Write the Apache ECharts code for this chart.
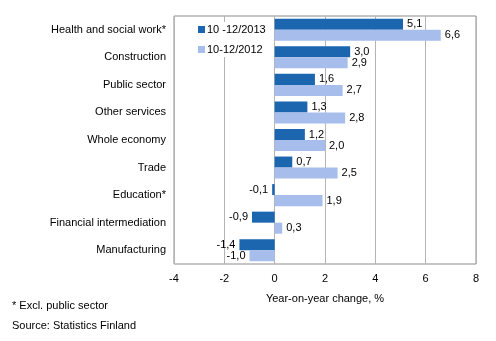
<!DOCTYPE html>
<html>
<head>
<meta charset="utf-8">
<script src="https://cdn.jsdelivr.net/npm/echarts@6/dist/echarts.min.js"></script>
<style>
  html, body { margin: 0; padding: 0; background: #fff; }
  #main { width: 496px; height: 341px; }
</style>
</head>
<body>
<div id="main"></div>
<script>
  // 行业及两期同比变化
  var categories = ['Health and social work*', 'Construction', 'Public sector', 'Other services',
    'Whole economy', 'Trade', 'Education*', 'Financial intermediation', 'Manufacturing'];
  var values2013 = [5.1, 3.0, 1.6, 1.3, 1.2, 0.7, -0.1, -0.9, -1.4];
  var values2012 = [6.6, 2.9, 2.7, 2.8, 2.0, 2.5, 1.9, 0.3, -1.0];
  var seriesNames = ['10 -12/2013', '10-12/2012'];

  var myChart = echarts.init(document.getElementById('main'));
  var font = 'Arial, "Liberation Sans", sans-serif';

  // 正值标签在右，负值标签在左
  function toItems(arr) {
    return arr.map(function (v) {
      return { value: v, label: { position: v < 0 ? 'left' : 'right' } };
    });
  }
  function fmt(p) {
    return p.value.toFixed(1).replace('.', ',');
  }

  var option = {
    animation: false,
    textStyle: { fontFamily: font },
    grid: {
      left: 174, right: 20, top: 16, bottom: 77,
      show: true, borderColor: '#8c8c8c', borderWidth: 1, backgroundColor: '#fff'
    },
    legend: {
      orient: 'vertical',
      left: 196, top: 22,
      itemWidth: 7, itemHeight: 7, itemGap: 9,
      backgroundColor: '#fff',
      padding: [2, 4, 2, 2],
      icon: 'rect',
      textStyle: { fontSize: 11, color: '#000', fontFamily: font, padding: [0, 0, 0, -3] },
      data: seriesNames
    },
    xAxis: {
      type: 'value',
      min: -4, max: 8, interval: 2,
      name: 'Year-on-year change, %',
      nameLocation: 'middle',
      nameGap: 29,
      nameTextStyle: { fontSize: 11, color: '#000', fontFamily: font },
      axisLine: { show: false },
      axisTick: { show: false },
      axisLabel: { fontSize: 11, color: '#000', margin: 9, fontFamily: font },
      splitLine: { lineStyle: { color: '#b4b4b4' } }
    },
    yAxis: {
      type: 'category',
      inverse: true,
      data: categories,
      axisLine: { show: false },
      axisTick: { show: false },
      axisLabel: { fontSize: 11, color: '#000', margin: 8, fontFamily: font }
    },
    series: [
      {
        name: seriesNames[0],
        type: 'bar',
        data: toItems(values2013),
        barGap: '0%',
        barCategoryGap: '20%',
        itemStyle: { color: '#1c66b0' },
        label: { show: true, formatter: fmt, fontSize: 11, color: '#000', distance: 4, fontFamily: font }
      },
      {
        name: seriesNames[1],
        type: 'bar',
        data: toItems(values2012),
        itemStyle: { color: '#a7bdeb' },
        label: { show: true, formatter: fmt, fontSize: 11, color: '#000', distance: 4, fontFamily: font }
      }
    ],
    graphic: [
      { type: 'text', left: 12, top: 300, style: { text: '* Excl. public sector', fontSize: 11, fill: '#000', font: '11px ' + font } },
      { type: 'text', left: 12, top: 320, style: { text: 'Source: Statistics Finland', fontSize: 11, fill: '#000', font: '11px ' + font } }
    ]
  };

  myChart.setOption(option);
</script>
</body>
</html>
